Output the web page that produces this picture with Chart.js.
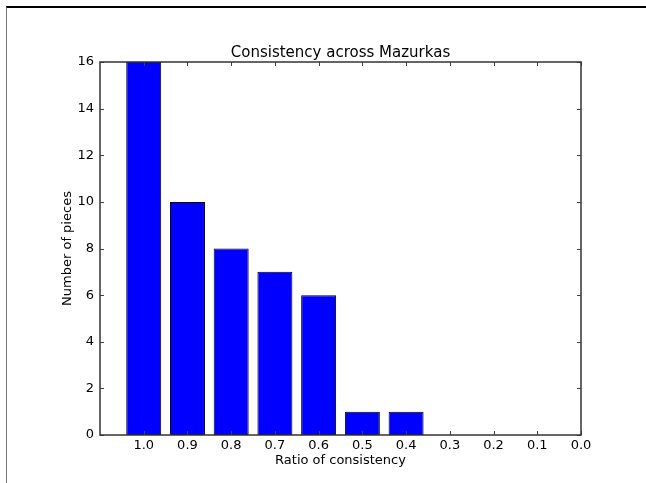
<!DOCTYPE html>
<html>
<head>
<meta charset="utf-8">
<script src="https://cdn.jsdelivr.net/npm/chart.js@4"></script>
<style>
  body { margin: 0; background: #fff; }
  #wrap { position: relative; width: 646px; height: 483px; }
  #frame { position: absolute; left: 6px; top: 6px; right: 0; bottom: 0;
           border-top: 2px solid #000; border-left: 1px solid #777; }
  canvas { position: absolute; left: 0; top: 0; }
</style>
</head>
<body>
<div id="wrap">
  <div id="frame"></div>
  <canvas id="barChart" width="646" height="483"></canvas>
</div>
<script>
// ratio of consistency, from 1.0 down to 0.0
const categories = ['1.0', '0.9', '0.8', '0.7', '0.6', '0.5', '0.4', '0.3', '0.2', '0.1', '0.0'];
const pieceCounts = [16, 10, 8, 7, 6, 1, 1, 0, 0, 0, 0];
const yTicks = [0, 2, 4, 6, 8, 10, 12, 14, 16];

const FONT = "'DejaVu Sans'";

// matplotlib style spines + inward ticks
const axesFrame = {
  id: 'axesFrame',
  afterDatasetsDraw(chart) {
    const ctx = chart.ctx;
    const a = chart.chartArea;
    const xs = chart.scales.x, ys = chart.scales.y;
    ctx.save();
    ctx.strokeStyle = '#444';
    ctx.lineWidth = 1;
    ctx.beginPath();
    categories.forEach((c, i) => {
      const px = Math.round(xs.getPixelForValue(i)) + 0.5;
      ctx.moveTo(px, a.bottom); ctx.lineTo(px, a.bottom - 4);
      ctx.moveTo(px, a.top); ctx.lineTo(px, a.top + 4);
    });
    yTicks.forEach(v => {
      const py = Math.round(ys.getPixelForValue(v)) + 0.5;
      ctx.moveTo(a.left, py); ctx.lineTo(a.left + 4, py);
      ctx.moveTo(a.right, py); ctx.lineTo(a.right - 4, py);
    });
    ctx.stroke();
    ctx.lineWidth = 1.5;
    ctx.strokeStyle = '#333';
    ctx.strokeRect(a.left, a.top, a.right - a.left, a.bottom - a.top);
    ctx.restore();
  }
};

document.addEventListener('DOMContentLoaded', function() {
  const ctx = document.getElementById('barChart').getContext('2d');
  new Chart(ctx, {
    type: 'bar',
    data: {
      datasets: [{
        label: 'Number of pieces',
        data: pieceCounts.map((v, i) => ({ x: i, y: v })),
        backgroundColor: '#0000ff',
        borderColor: '#000',
        borderWidth: 1,
        borderSkipped: false,
        categoryPercentage: 1,
        barPercentage: 0.8
      }]
    },
    options: {
      responsive: false,
      animation: false,
      layout: { padding: { left: 0, right: 65, top: 0, bottom: 0 } },
      plugins: {
        legend: { display: false },
        tooltip: { enabled: false },
        title: {
          display: true,
          text: 'Consistency across Mazurkas',
          fullSize: false,
          color: '#000',
          font: { family: FONT, size: 15, weight: 'normal', lineHeight: 1 },
          padding: { top: 46, bottom: 1 }
        }
      },
      scales: {
        x: {
          type: 'linear',
          offset: false,
          min: -1,
          max: 10,
          grid: { display: false, drawTicks: false, offset: false },
          border: { display: false },
          ticks: {
            stepSize: 1,
            autoSkip: false,
            maxRotation: 0,
            padding: 3,
            color: '#000',
            font: { family: FONT, size: 13 },
            callback: v => (v >= 0 ? categories[v] : '')
          },
          title: {
            display: true,
            text: 'Ratio of consistency',
            color: '#000',
            font: { family: FONT, size: 13 },
            padding: { top: 0, bottom: 15 }
          },
          afterFit: s => { s.height = 48; }
        },
        y: {
          min: 0,
          max: 16,
          grid: { display: false, drawTicks: false },
          border: { display: false },
          ticks: {
            stepSize: 2,
            padding: 6,
            color: '#000',
            font: { family: FONT, size: 13 }
          },
          title: {
            display: true,
            text: 'Number of pieces',
            color: '#000',
            font: { family: FONT, size: 13 },
            padding: { top: 60, bottom: 0 }
          },
          afterFit: s => { s.width = 100; }
        }
      }
    },
    plugins: [axesFrame]
  });
});
</script>
</body>
</html>
